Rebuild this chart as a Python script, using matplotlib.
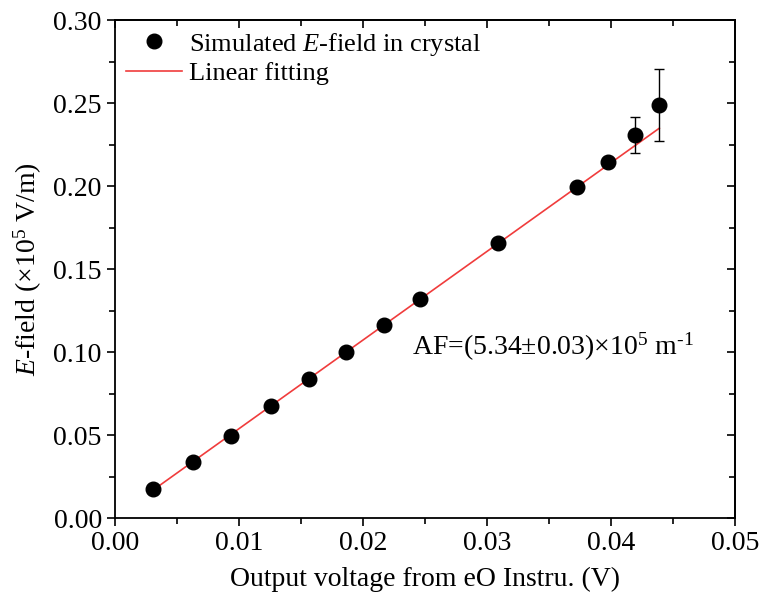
import numpy as np
import matplotlib
matplotlib.use("Agg")
import matplotlib.pyplot as plt
from matplotlib.ticker import MultipleLocator, FormatStrFormatter

plt.rcParams['font.family'] = ['Liberation Serif', 'DejaVu Serif']
plt.rcParams['mathtext.fontset'] = 'custom'
plt.rcParams['mathtext.rm'] = 'Liberation Serif'
plt.rcParams['mathtext.it'] = 'Liberation Serif:italic'

# simulated E-field vs output voltage
voltage = [0.00306, 0.0063, 0.00933, 0.0126, 0.01565, 0.01863, 0.0217,
           0.0246, 0.0309, 0.0373, 0.0398, 0.0419, 0.0439]
efield = [0.0174, 0.0338, 0.0495, 0.0672, 0.0838, 0.1003, 0.1164,
          0.1322, 0.1655, 0.1993, 0.2146, 0.2308, 0.2488]
efield_err = [0, 0, 0, 0, 0, 0, 0, 0, 0, 0, 0, 0.0107, 0.0215]

fit_slope = 5.34
fit_intercept = 0.0004

fig = plt.figure(figsize=(7.64, 6.01), dpi=100)
ax = fig.add_axes([0.1505, 0.1381, 0.962 - 0.1505, 0.9667 - 0.1381])

fit_x = np.array([voltage[0], voltage[-1]])
ax.plot(fit_x, fit_slope * fit_x + fit_intercept, color='#f03c3c', lw=1.2,
        label='Linear fitting', zorder=2)
ax.errorbar(voltage, efield, yerr=efield_err, fmt='none', ecolor='black',
            elinewidth=1.0, capsize=3.4, capthick=1.0, zorder=3)
ax.plot(voltage, efield, 'o', color='black', ms=10.5, ls='none',
        label='Simulated $E$-field in crystal', zorder=4)

ax.set_xlim(0, 0.05)
ax.set_ylim(0, 0.30)
ax.xaxis.set_major_locator(MultipleLocator(0.01))
ax.xaxis.set_minor_locator(MultipleLocator(0.005))
ax.yaxis.set_major_locator(MultipleLocator(0.05))
ax.yaxis.set_minor_locator(MultipleLocator(0.025))
ax.xaxis.set_major_formatter(FormatStrFormatter('%.2f'))
ax.yaxis.set_major_formatter(FormatStrFormatter('%.2f'))
ax.tick_params(which='both', direction='out', width=1.2, labelsize=20)
ax.tick_params(which='major', length=6)
ax.tick_params(which='minor', length=4)
for s in ax.spines.values():
    s.set_linewidth(1.3)

# mirrored ticks on top/right pointing inward
top = ax.secondary_xaxis('top')
top.xaxis.set_major_locator(MultipleLocator(0.01))
top.xaxis.set_minor_locator(MultipleLocator(0.005))
top.tick_params(which='both', direction='in', labeltop=False, width=1.2)
top.tick_params(which='major', length=6)
top.tick_params(which='minor', length=4)
right = ax.secondary_yaxis('right')
right.yaxis.set_major_locator(MultipleLocator(0.05))
right.yaxis.set_minor_locator(MultipleLocator(0.025))
right.tick_params(which='both', direction='in', labelright=False, width=1.2)
right.tick_params(which='major', length=6)
right.tick_params(which='minor', length=4)
top.spines['top'].set_linewidth(1.3)
right.spines['right'].set_linewidth(1.3)

ax.set_xlabel('Output voltage from eO Instru. (V)', fontsize=20, labelpad=8)
ax.set_ylabel('$E$-field (×10$^5$ V/m)', fontsize=20, labelpad=7)

ax.text(0.02395, 0.1028, 'AF=(5.34±0.03)×10$^5$ m$^{\u2010 1}$', fontsize=20,
        va='center', ha='left')

handles, labels = ax.get_legend_handles_labels()
ax.legend(handles[::-1], labels[::-1], loc='upper left', frameon=False,
          fontsize=19, handlelength=2.15, handletextpad=0.25, labelspacing=0.15,
          borderaxespad=0.0, bbox_to_anchor=(0.0, 1.0))

fig.savefig('out.png', dpi=100)
